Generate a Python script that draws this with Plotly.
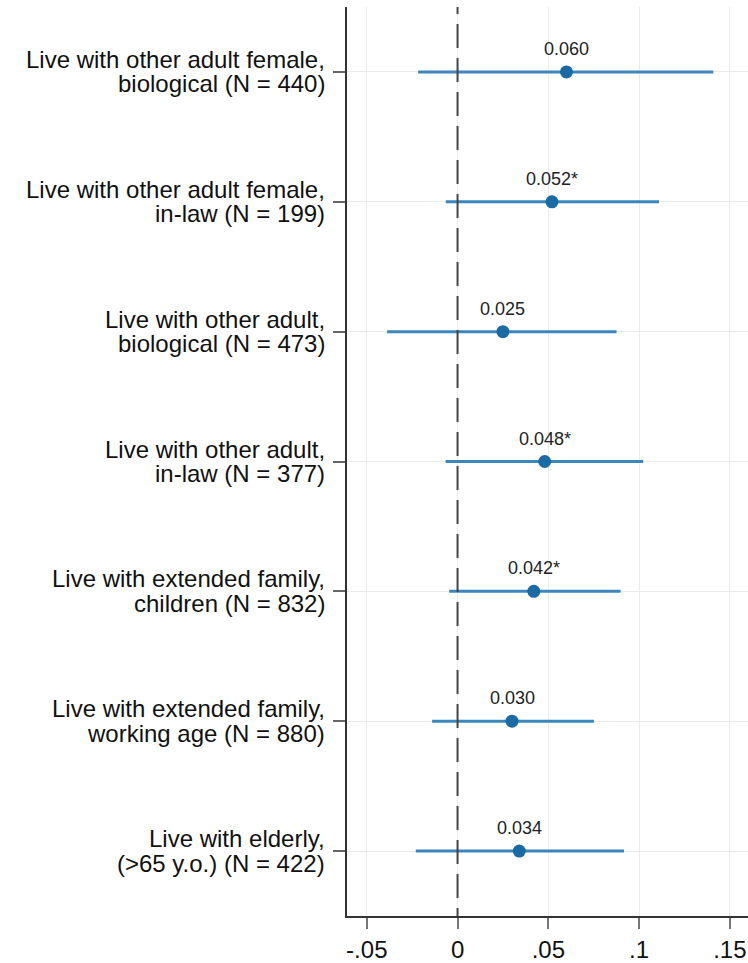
import plotly.graph_objects as go

# Coefficient estimates with 95% confidence intervals, one row per household type
group_names = [
    "Live with other adult female,",
    "Live with other adult female,",
    "Live with other adult,",
    "Live with other adult,",
    "Live with extended family,",
    "Live with extended family,",
    "Live with elderly,",
]
group_details = [
    "biological (N = 440)",
    "in-law (N = 199)",
    "biological (N = 473)",
    "in-law (N = 377)",
    "children (N = 832)",
    "working age (N = 880)",
    "(>65 y.o.) (N = 422)",
]
coef = [0.060, 0.052, 0.025, 0.048, 0.042, 0.030, 0.034]
ci_low = [-0.0217, -0.0065, -0.0388, -0.0066, -0.0046, -0.0140, -0.0230]
ci_high = [0.1409, 0.1110, 0.0876, 0.1023, 0.0898, 0.0751, 0.0917]
stars = ["", "*", "", "*", "*", "", ""]

x_tickvals = [-0.05, 0, 0.05, 0.10, 0.15]
x_ticktext = ["-.05", "0", ".05", ".1", ".15"]

FONT = "Arial, 'Liberation Sans', sans-serif"
rows = list(range(len(coef)))

fig = go.Figure()

# Confidence intervals and point estimates
fig.add_trace(go.Scatter(
    x=coef, y=rows, mode="markers",
    marker=dict(size=13, color="#1c6aa4"),
    error_x=dict(
        type="data", symmetric=False,
        array=[h - c for h, c in zip(ci_high, coef)],
        arrayminus=[c - l for c, l in zip(coef, ci_low)],
        thickness=3, width=0, color="#3a86bd",
    ),
    hoverinfo="skip", showlegend=False,
))

# Dashed reference line at zero
fig.add_trace(go.Scatter(
    x=[0, 0], y=[-0.63, len(coef) - 0.5], mode="lines",
    line=dict(color="#444444", width=2, dash="24px,10px"),
    hoverinfo="skip", showlegend=False,
))

annotations = []
for i, (name, det) in enumerate(zip(group_names, group_details)):
    annotations.append(dict(
        x=0, xref="paper", y=i, yref="y", text=name, showarrow=False,
        xanchor="right", yanchor="middle", xshift=-20, yshift=12.5,
        font=dict(family=FONT, size=24, color="#111111"),
    ))
    annotations.append(dict(
        x=0, xref="paper", y=i, yref="y", text=det, showarrow=False,
        xanchor="right", yanchor="middle", xshift=-20, yshift=-12,
        font=dict(family=FONT, size=24, color="#111111"),
    ))

for i, (c, s) in enumerate(zip(coef, stars)):
    annotations.append(dict(
        x=c, xref="x", y=i, yref="y", text=f"{c:.3f}{s}", showarrow=False,
        xanchor="center", yanchor="middle", yshift=23,
        font=dict(family=FONT, size=18, color="#222222"),
    ))

fig.update_layout(
    width=748, height=963,
    margin=dict(l=347, r=0, t=7, b=45),
    paper_bgcolor="white", plot_bgcolor="white",
    font=dict(family=FONT, color="#111111"),
    annotations=annotations,
    xaxis=dict(
        range=[-0.0609, 0.160], tickvals=x_tickvals, ticktext=x_ticktext,
        ticks="outside", ticklen=11, tickwidth=2, tickcolor="#777777",
        showline=True, linecolor="#333333", linewidth=2,
        showgrid=True, gridcolor="#ebebeb", gridwidth=1, zeroline=False,
        tickfont=dict(family=FONT, size=24, color="#111111"),
    ),
    yaxis=dict(
        range=[len(coef) - 0.5, -0.5], tickvals=rows, showticklabels=False,
        ticks="outside", ticklen=12, tickwidth=2, tickcolor="#666666",
        showline=True, linecolor="#333333", linewidth=2,
        showgrid=True, gridcolor="#ebebeb", gridwidth=1, zeroline=False,
    ),
)

fig.write_html("out.html")
